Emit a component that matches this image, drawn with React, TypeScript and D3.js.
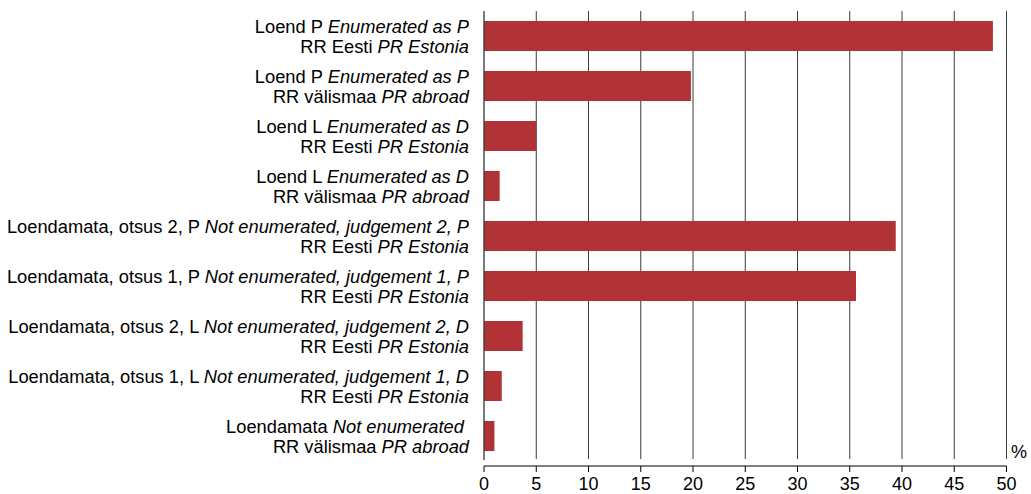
import React from 'react';
import * as d3 from 'd3';

// category labels: [regular, italic] for both lines
const line1Et = [
  'Loend P', 'Loend P', 'Loend L', 'Loend L',
  'Loendamata, otsus 2, P', 'Loendamata, otsus 1, P',
  'Loendamata, otsus 2, L', 'Loendamata, otsus 1, L', 'Loendamata',
];
const line1En = [
  'Enumerated as P', 'Enumerated as P', 'Enumerated as D', 'Enumerated as D',
  'Not enumerated, judgement 2, P', 'Not enumerated, judgement 1, P',
  'Not enumerated, judgement 2, D', 'Not enumerated, judgement 1, D', 'Not enumerated\u00a0',
];
const line2Et = [
  'RR Eesti', 'RR välismaa', 'RR Eesti', 'RR välismaa',
  'RR Eesti', 'RR Eesti', 'RR Eesti', 'RR Eesti', 'RR välismaa',
];
const line2En = [
  'PR Estonia', 'PR abroad', 'PR Estonia', 'PR abroad',
  'PR Estonia', 'PR Estonia', 'PR Estonia', 'PR Estonia', 'PR abroad',
];
const values = [48.7, 19.8, 5.0, 1.5, 39.4, 35.6, 3.7, 1.7, 1.0];
const xTicks = [0, 5, 10, 15, 20, 25, 30, 35, 40, 45, 50];

const W = 1031;
const H = 494;
const margin = { left: 484, right: 24.5, top: 11, bottom: 33 };
const FONT = '"Liberation Sans", Arial, sans-serif';

export default function App() {
  const x = d3.scaleLinear().domain([0, 50]).range([margin.left, W - margin.right]);
  const y = d3.scaleBand<number>()
    .domain(values.map((_, i) => i))
    .range([margin.top, H - margin.bottom])
    .paddingInner(0.4)
    .paddingOuter(0.2);
  const plotBottom = H - margin.bottom;
  const axisY = plotBottom + 5;

  return (
    <svg width={W} height={H} style={{ position: 'absolute', left: 0, top: 0 }} fontFamily={FONT}>
      <rect width={W} height={H} fill="#fff" />
      {/* grid lines */}
      {xTicks.slice(1).map(t => (
        <line key={t} x1={x(t)} x2={x(t)} y1={margin.top} y2={plotBottom - 2}
          stroke="#3a3a3a" strokeWidth={1} />
      ))}
      {/* bars */}
      {values.map((v, i) => (
        <rect key={i} x={x(0)} y={y(i)} width={x(v) - x(0)} height={y.bandwidth()} fill="#b13335" />
      ))}
      {/* y axis line */}
      <line x1={x(0)} x2={x(0)} y1={margin.top} y2={plotBottom - 1} stroke="#333" strokeWidth={1.3} />
      {/* category labels */}
      {values.map((_, i) => {
        const cy = (y(i) ?? 0) + y.bandwidth() / 2;
        return (
          <g key={i} fontSize={18.3} fill="#000" textAnchor="end">
            <text x={469} y={cy - 3.5}>
              {line1Et[i]} <tspan fontStyle="italic">{line1En[i]}</tspan>
            </text>
            <text x={469} y={cy + 16.5}>
              {line2Et[i]} <tspan fontStyle="italic">{line2En[i]}</tspan>
            </text>
          </g>
        );
      })}
      {/* x axis */}
      <line x1={x(0)} x2={x(50)} y1={axisY} y2={axisY} stroke="#000" strokeWidth={1} />
      {xTicks.map(t => (
        <g key={t}>
          <line x1={x(t)} x2={x(t)} y1={axisY} y2={axisY + 6} stroke="#000" strokeWidth={1} />
          <text x={x(t)} y={axisY + 24} textAnchor="middle" fontSize={18} fill="#000">{t}</text>
        </g>
      ))}
      <text x={1019} y={458} textAnchor="middle" fontSize={18} fill="#000">%</text>
    </svg>
  );
}
